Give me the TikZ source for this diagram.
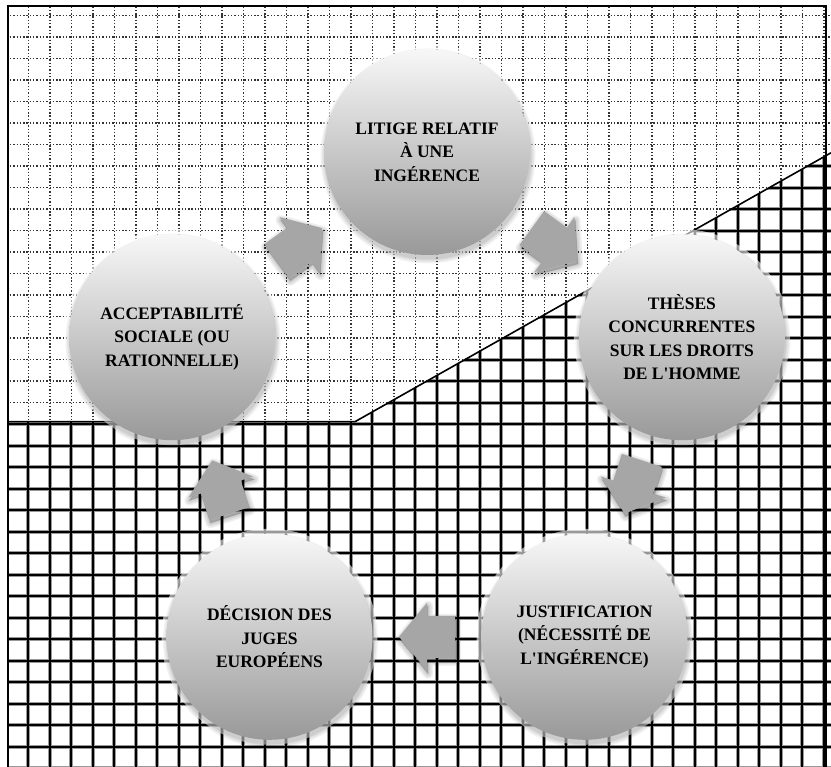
\documentclass[tikz,border=0pt]{standalone}
\usepackage{fontspec}
\setmainfont{Liberation Serif}
\usetikzlibrary{calc}
\begin{document}
\begin{tikzpicture}[x=1pt,y=-1pt,
  dotgrid/.style={draw=black!80, line width=1.5pt, dash pattern=on 1.4pt off 1.9pt},
  halogrid/.style={draw=black!40, line width=3.8pt},
  coregrid/.style={draw=black, line width=2pt},
  circ/.style={circle, minimum size=206pt, inner sep=0pt, top color=white!97!black, bottom color=black!40,
    align=center, font=\fontsize{17.5}{23.5}\selectfont\bfseries, text=black},
  arrowfill/.style={fill=black!35},
  blockarr/.pic={\fill[arrowfill] (-28,-21) -- (0,-21) -- (0,-34) -- (28,0) -- (0,34) -- (0,21) -- (-28,21) -- cycle;},
  blockshadow/.pic={\foreach \w in {10,7,4,1}{\filldraw[black, opacity=0.06, line width=\w pt, line join=round]
      (-28,-21) -- (0,-21) -- (0,-34) -- (28,0) -- (0,34) -- (0,21) -- (-28,21) -- cycle;}},
]
\useasboundingbox (0,0) rectangle (831,767);
\fill[white] (0,0) rectangle (831,767);
% upper dotted grid
\begin{scope}
  \clip (8,6) -- (831,6) -- (831,152.8) -- (355,421.7) -- (8,421.7) -- cycle;
  \foreach \i in {-1,...,38} \draw[dotgrid] ({28.3+21.5*\i},0) -- ({28.3+21.5*\i},767);
  \foreach \j in {-1,...,36} \draw[dotgrid] (0,{15.7+21.5*\j}) -- (831,{15.7+21.5*\j});
\end{scope}
% lower solid grid
\begin{scope}
  \clip (8,421.7) -- (355,421.7) -- (831,152.8) -- (831,767) -- (8,767) -- cycle;
  \foreach \i in {-1,...,38} \draw[halogrid] ({28.3+21.5*\i},0) -- ({28.3+21.5*\i},767);
  \foreach \j in {-1,...,36} \draw[halogrid] (0,{15.7+21.5*\j}) -- (831,{15.7+21.5*\j});
  \foreach \i in {-1,...,38} \draw[coregrid] ({28.3+21.5*\i},0) -- ({28.3+21.5*\i},767);
  \foreach \j in {-1,...,36} \draw[coregrid] (0,{15.7+21.5*\j}) -- (831,{15.7+21.5*\j});
\end{scope}
% boundary and frame
\draw[black, line width=1.6pt] (8,421.7) -- (355,421.7) -- (831,152.8);
\draw[black, line width=2pt] (8,767) -- (8,6) -- (826,6) -- (826,767);
% circle centres
\coordinate (p1) at (427,152);
\coordinate (p2) at (681.9,337.2);
\coordinate (p3) at (584.5,636.8);
\coordinate (p4) at (269.5,636.8);
\coordinate (p5) at (172.1,337.2);
% circle glow and shadow
\foreach \p in {p1,p2,p3,p4,p5}{
  \fill[white, opacity=0.6] (\p) circle (108);
  \foreach \w in {9,6,3,1}{\fill[black, opacity=0.05] ($(\p)+(1,4)$) circle ({103+\w/2});}
}
\node[circ] (c1) at (p1) {LITIGE RELATIF\\À UNE\\INGÉRENCE};
\node[circ] (c2) at (p2) {THÈSES\\CONCURRENTES\\SUR LES DROITS\\DE L\textquotesingle HOMME};
\node[circ] (c3) at (p3) {JUSTIFICATION\\(NÉCESSITÉ DE\\L\textquotesingle INGÉRENCE)};
\node[circ] (c4) at (p4) {DÉCISION DES\\JUGES\\EUROPÉENS};
\node[circ] (c5) at (p5) {ACCEPTABILITÉ\\SOCIALE (OU\\RATIONNELLE)};
% block arrows
\pic[rotate=36]    at ($(c5)!0.5!(c1)+(1,3)$) {blockshadow};
\pic[rotate=-36]   at ($(c1)!0.5!(c2)+(1,3)$) {blockshadow};
\pic[rotate=-108]  at ($(c2)!0.5!(c3)+(1,3)$) {blockshadow};
\pic[rotate=180]   at ($(c3)!0.5!(c4)+(1,3)$) {blockshadow};
\pic[rotate=108]   at ($(c4)!0.5!(c5)+(1,3)$) {blockshadow};
\pic[rotate=36]    at ($(c5)!0.5!(c1)$) {blockarr};
\pic[rotate=-36]   at ($(c1)!0.5!(c2)$) {blockarr};
\pic[rotate=-108]  at ($(c2)!0.5!(c3)$) {blockarr};
\pic[rotate=180]   at ($(c3)!0.5!(c4)$) {blockarr};
\pic[rotate=108]   at ($(c4)!0.5!(c5)$) {blockarr};
\end{tikzpicture}
\end{document}
